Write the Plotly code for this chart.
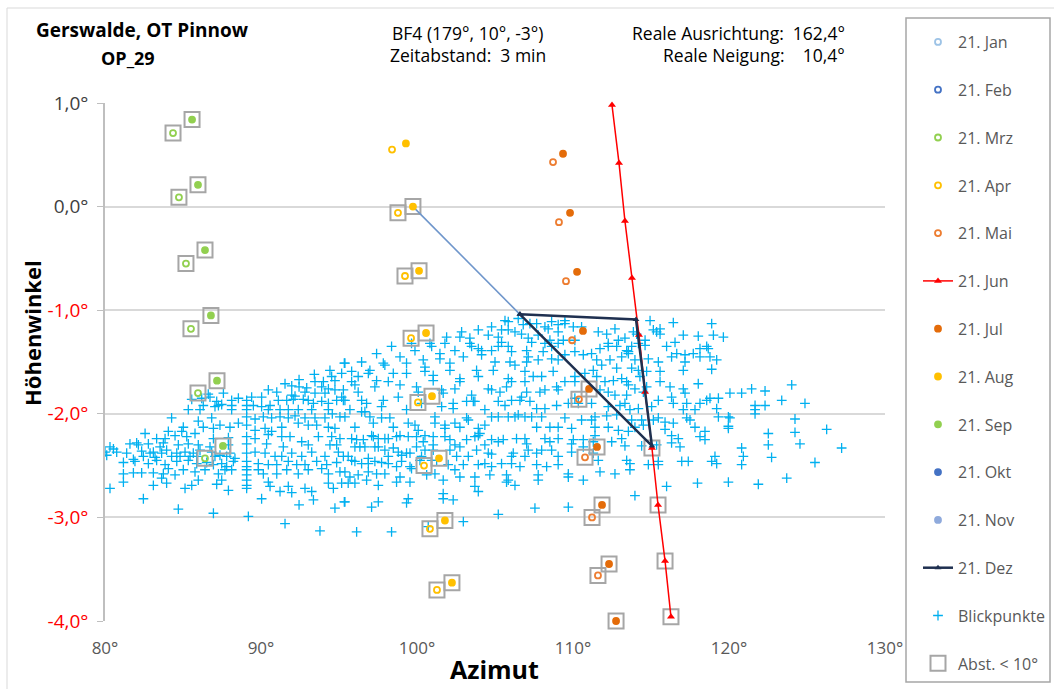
import plotly.graph_objects as go

# ---------------- Sonnenbahnen (Azimut in °, Höhenwinkel in °) ----------------
mrz_az = [84.36, 84.74, 85.19, 85.51, 85.96, 86.41]
mrz_alt = [0.71, 0.09, -0.55, -1.18, -1.80, -2.43]
sep_az = [85.58, 85.96, 86.41, 86.79, 87.18, 87.56]
sep_alt = [0.84, 0.21, -0.42, -1.05, -1.68, -2.31]
apr_az = [98.40, 98.78, 99.23, 99.62, 100.06, 100.45, 100.83, 101.28]
apr_alt = [0.55, -0.06, -0.67, -1.27, -1.89, -2.50, -3.11, -3.70]
aug_az = [99.29, 99.74, 100.13, 100.58, 100.96, 101.41, 101.79, 102.24]
aug_alt = [0.61, 0.00, -0.62, -1.22, -1.83, -2.43, -3.03, -3.63]
mai_az = [108.72, 109.10, 109.55, 109.94, 110.38, 110.77, 111.22, 111.60]
mai_alt = [0.43, -0.15, -0.72, -1.29, -1.86, -2.42, -3.00, -3.56]
jul_az = [109.36, 109.81, 110.26, 110.64, 111.03, 111.54, 111.86, 112.31, 112.76]
jul_alt = [0.51, -0.06, -0.63, -1.20, -1.76, -2.32, -2.88, -3.45, -4.00]
jun_az = [112.50, 112.95, 113.33, 113.78, 114.23, 114.62, 115.06, 115.45, 115.90, 116.28]
jun_alt = [0.98, 0.42, -0.14, -0.69, -1.24, -1.79, -2.33, -2.88, -3.42, -3.96]
dez_az = [106.60, 114.04, 115.06, 106.60]
dez_alt = [-1.04, -1.09, -2.31, -1.04]
verbindung_az = [99.74, 106.60]
verbindung_alt = [0.00, -1.04]

# Punkte mit Abstand < 10° (Indizes je Monatsreihe)
abst_idx = {
    "mrz": [0, 1, 2, 3, 4, 5],
    "sep": [0, 1, 2, 3, 4, 5],
    "apr": [1, 2, 3, 4, 5, 6, 7],
    "aug": [1, 2, 3, 4, 5, 6, 7],
    "mai": [4, 5, 6, 7],
    "jul": [4, 5, 6, 7, 8],
    "jun": [6, 7, 8, 9],
}

# ---------------- Blickpunkte (Azimut, Höhenwinkel) ----------------
blickpunkte = [
    (95.34, -1.51), (93.42, -1.62), (94.42, -1.58), (95.17, -1.61), (92.44, -1.67), (93.46, -1.69),
    (94.00, -1.69), (94.53, -1.64), (94.74, -1.68), (91.54, -1.71), (91.97, -1.73), (92.44, -1.74),
    (92.93, -1.75), (93.89, -1.74), (94.32, -1.76), (94.74, -1.77), (95.28, -1.77), (90.47, -1.77),
    (91.01, -1.79), (91.97, -1.82), (92.82, -1.79), (93.46, -1.80), (94.10, -1.80), (95.17, -1.84),
    (86.62, -1.81), (87.59, -1.80), (85.56, -1.86), (86.20, -1.85), (86.73, -1.84), (87.16, -1.88),
    (87.27, -1.92), (87.48, -1.91), (88.12, -1.87), (88.55, -1.85), (89.08, -1.87), (89.40, -1.84),
    (90.04, -1.84), (85.34, -1.96), (86.09, -1.96), (86.30, -1.92), (87.05, -1.93), (88.12, -1.92),
    (88.12, -1.96), (89.08, -1.92), (89.08, -1.96), (89.51, -1.92), (90.04, -1.93), (90.58, -1.92),
    (91.11, -1.87), (91.65, -1.87), (92.07, -1.86), (92.18, -1.83), (92.71, -1.86), (93.03, -1.87),
    (93.36, -1.90), (93.89, -1.88), (94.32, -1.90), (94.85, -1.87), (95.28, -1.87), (90.47, -1.96),
    (91.22, -1.96), (91.75, -1.96), (92.39, -1.96), (93.25, -1.96), (94.32, -1.96),
    (84.27, -2.04), (85.98, -2.07), (86.84, -2.04), (87.37, -2.11), (88.01, -2.13), (88.55, -2.09),
    (89.08, -2.03), (89.62, -2.05), (90.15, -2.03), (90.68, -2.04), (91.22, -2.03), (91.75, -2.04),
    (92.18, -2.02), (92.82, -2.04), (93.46, -2.04), (94.10, -2.04), (94.57, -2.00), (95.06, -2.03),
    (84.06, -2.17), (85.02, -2.13), (84.92, -2.17), (86.30, -2.13), (86.95, -2.14), (89.08, -2.11),
    (89.62, -2.16), (90.26, -2.14), (90.68, -2.17), (91.33, -2.13), (92.39, -2.09), (93.03, -2.11),
    (93.57, -2.11), (94.32, -2.13), (94.74, -2.14), (82.57, -2.19), (83.31, -2.24), (83.85, -2.24),
    (84.49, -2.21), (85.24, -2.22), (85.77, -2.19), (86.95, -2.24), (87.91, -2.23), (89.08, -2.22),
    (89.62, -2.24), (90.47, -2.20), (91.33, -2.22), (91.86, -2.22), (92.61, -2.27), (93.68, -2.22),
    (94.53, -2.22), (95.06, -2.24), (81.60, -2.29), (82.03, -2.28), (82.14, -2.30), (82.78, -2.29),
    (83.53, -2.32), (83.74, -2.28), (84.70, -2.30), (85.34, -2.29), (85.98, -2.30), (86.73, -2.32),
    (87.91, -2.30), (89.08, -2.29), (90.36, -2.29), (91.43, -2.32), (93.03, -2.30), (94.42, -2.30),
    (94.85, -2.30),
    (80.00, -2.37), (80.32, -2.32), (80.54, -2.34), (80.75, -2.37), (80.11, -2.40), (81.39, -2.38),
    (81.82, -2.44), (82.35, -2.36), (82.46, -2.41), (82.89, -2.38), (83.10, -2.37), (83.21, -2.42),
    (83.63, -2.38), (83.95, -2.35), (84.27, -2.41), (84.60, -2.38), (84.81, -2.41), (85.13, -2.37),
    (85.45, -2.41), (85.66, -2.38), (85.88, -2.41), (86.09, -2.35), (86.84, -2.37), (87.05, -2.41),
    (87.37, -2.40), (87.80, -2.41), (88.01, -2.38), (88.33, -2.43), (89.08, -2.38), (89.62, -2.37),
    (90.26, -2.38), (90.90, -2.41), (91.33, -2.41), (91.97, -2.38), (92.61, -2.41), (93.25, -2.37),
    (94.10, -2.41), (94.96, -2.37), (95.28, -2.41), (81.18, -2.47), (81.92, -2.46), (82.78, -2.48),
    (83.31, -2.45), (83.85, -2.49), (84.60, -2.46), (85.34, -2.45), (85.88, -2.48), (86.52, -2.47),
    (86.95, -2.49), (87.48, -2.48), (87.80, -2.51), (88.23, -2.46), (89.08, -2.46), (89.08, -2.51),
    (89.83, -2.48), (90.47, -2.49), (91.01, -2.49), (91.75, -2.46), (92.29, -2.49), (92.82, -2.49),
    (93.57, -2.46), (94.21, -2.49), (94.85, -2.47),
    (81.18, -2.58), (81.82, -2.57), (82.35, -2.57), (83.10, -2.57), (83.74, -2.58), (84.06, -2.53),
    (84.49, -2.59), (85.02, -2.54), (85.77, -2.56), (86.41, -2.54), (87.27, -2.58), (87.69, -2.54),
    (88.12, -2.54), (89.08, -2.54), (89.08, -2.59), (89.83, -2.54), (90.15, -2.58), (91.01, -2.58),
    (91.65, -2.54), (92.39, -2.58), (93.03, -2.54), (93.89, -2.53), (94.32, -2.58), (95.06, -2.56),
    (81.18, -2.66), (83.10, -2.69), (83.63, -2.62), (83.95, -2.67), (85.13, -2.72), (85.56, -2.69),
    (85.98, -2.64), (87.16, -2.68), (87.48, -2.64), (87.91, -2.74), (89.08, -2.64), (89.08, -2.69),
    (89.08, -2.72), (90.47, -2.66), (90.58, -2.70), (91.22, -2.75), (91.75, -2.70), (91.97, -2.76),
    (92.82, -2.72), (93.25, -2.75), (94.32, -2.67), (94.64, -2.72), (95.17, -2.67), (80.32, -2.72),
    (82.46, -2.82), (90.04, -2.82), (93.36, -2.83), (84.70, -2.92), (86.95, -2.96), (89.19, -2.99),
    (91.54, -3.06), (92.44, -2.88), (93.78, -3.13), (94.74, -2.91), (95.34, -2.85),
    (105.64, -1.10), (105.85, -1.11), (106.49, -1.08), (106.81, -1.14), (107.24, -1.13), (107.67, -1.13),
    (108.20, -1.16), (108.41, -1.18), (108.63, -1.11), (109.05, -1.14), (109.48, -1.10), (109.48, -1.13),
    (110.02, -1.16), (109.05, -1.21), (109.38, -1.29), (110.12, -1.29), (110.55, -1.16), (104.78, -1.16),
    (105.42, -1.19), (105.85, -1.19), (106.28, -1.21), (106.70, -1.23), (107.13, -1.27), (107.77, -1.24),
    (107.35, -1.31), (108.20, -1.32), (108.52, -1.29), (108.63, -1.35), (109.05, -1.32), (103.93, -1.19),
    (104.57, -1.24), (105.21, -1.26), (105.42, -1.31), (103.39, -1.27), (103.39, -1.32), (102.86, -1.21),
    (102.75, -1.26), (101.90, -1.26), (101.79, -1.32), (100.83, -1.32), (100.94, -1.35), (99.65, -1.32),
    (98.37, -1.35), (97.41, -1.42),
    (99.87, -1.39), (98.91, -1.45), (96.45, -1.50), (95.38, -1.51), (97.84, -1.51), (97.94, -1.53),
    (99.33, -1.51), (100.40, -1.48), (100.51, -1.55), (101.47, -1.42), (101.47, -1.47), (102.11, -1.51),
    (102.11, -1.58), (102.43, -1.39), (102.97, -1.45), (103.50, -1.35), (103.93, -1.37), (104.14, -1.39),
    (104.14, -1.43), (104.78, -1.39), (105.00, -1.50), (105.21, -1.35), (105.85, -1.35), (106.06, -1.40),
    (105.96, -1.50), (106.28, -1.53), (107.03, -1.39), (107.13, -1.45), (107.03, -1.50), (107.77, -1.48),
    (108.09, -1.40), (108.63, -1.47), (109.05, -1.48), (109.48, -1.43), (110.12, -1.40), (110.66, -1.43),
    (111.19, -1.42), (95.81, -1.59), (96.23, -1.64), (96.98, -1.58), (96.88, -1.61), (98.48, -1.61),
    (99.33, -1.61), (100.51, -1.59), (101.04, -1.63), (101.04, -1.68), (102.75, -1.66), (102.75, -1.69),
    (103.82, -1.58), (103.93, -1.64), (104.89, -1.58), (105.85, -1.66), (106.92, -1.59), (106.92, -1.69),
    (107.45, -1.64), (107.99, -1.64), (108.73, -1.59), (109.48, -1.69), (110.12, -1.64), (110.12, -1.69),
    (110.76, -1.61), (111.30, -1.58),
    (95.81, -1.69), (96.02, -1.72), (96.23, -1.79), (97.30, -1.74), (97.41, -1.68), (98.16, -1.69),
    (98.91, -1.72), (99.97, -1.74), (100.08, -1.79), (101.58, -1.77), (101.68, -1.80), (102.43, -1.76),
    (103.50, -1.82), (103.61, -1.88), (104.57, -1.76), (104.78, -1.77), (105.32, -1.79), (105.74, -1.74),
    (106.06, -1.69), (106.60, -1.87), (106.70, -1.84), (107.03, -1.79), (107.88, -1.79), (108.20, -1.77),
    (108.95, -1.74), (109.05, -1.77), (95.38, -1.87), (96.45, -1.87), (96.77, -1.90), (97.84, -1.87),
    (98.80, -1.84), (99.33, -1.96), (100.29, -1.90), (101.58, -1.93), (102.32, -1.90), (102.32, -1.95),
    (103.18, -1.88), (103.71, -1.88), (104.35, -1.96), (105.21, -1.88), (105.64, -1.92), (106.06, -1.87),
    (107.24, -1.88), (107.67, -1.95), (108.20, -1.95), (108.95, -1.92), (109.70, -1.90), (110.12, -1.85),
    (110.34, -1.90), (111.19, -1.90), (95.70, -1.96), (96.45, -1.98), (97.73, -1.93),
    (95.38, -2.03), (96.02, -2.13), (96.66, -1.98), (96.98, -2.03), (97.20, -2.09), (97.73, -2.04),
    (98.26, -2.04), (98.48, -2.13), (99.44, -2.09), (99.87, -2.11), (100.08, -2.16), (100.51, -2.21),
    (101.15, -2.03), (101.15, -2.09), (101.79, -2.11), (101.79, -2.14), (102.43, -2.09), (103.18, -2.04),
    (103.29, -2.06), (103.93, -2.14), (104.03, -2.19), (104.35, -2.11), (104.78, -2.03), (105.21, -2.03),
    (105.85, -2.03), (106.28, -2.03), (106.49, -2.01), (106.92, -2.03), (107.35, -2.03), (107.67, -2.13),
    (107.99, -2.03), (108.52, -2.13), (109.05, -2.13), (109.48, -2.04), (109.91, -2.14), (110.55, -2.06),
    (111.19, -2.06), (95.81, -2.24), (96.13, -2.25), (96.56, -2.25), (97.09, -2.21), (97.20, -2.22),
    (97.52, -2.24), (97.94, -2.24), (98.16, -2.24), (98.69, -2.22), (98.91, -2.21), (99.44, -2.22),
    (99.97, -2.22), (100.40, -2.27), (101.04, -2.22), (101.79, -2.22), (102.11, -2.25), (102.75, -2.13),
    (103.18, -2.25), (103.71, -2.22), (103.93, -2.21), (104.78, -2.25), (105.21, -2.27), (105.53, -2.25),
    (106.38, -2.24), (106.92, -2.24), (107.03, -2.29), (108.20, -2.24), (108.52, -2.27), (109.05, -2.24),
    (110.02, -2.25), (110.66, -2.25), (111.30, -2.27),
    (95.59, -2.41), (96.02, -2.32), (96.34, -2.32), (96.66, -2.32), (96.88, -2.43), (97.30, -2.32),
    (97.52, -2.32), (97.94, -2.35), (98.16, -2.41), (98.48, -2.33), (98.80, -2.37), (99.01, -2.40),
    (99.33, -2.38), (99.55, -2.38), (99.97, -2.32), (100.29, -2.41), (100.51, -2.35), (101.04, -2.30),
    (101.04, -2.35), (101.26, -2.45), (102.11, -2.35), (102.43, -2.30), (102.54, -2.41), (102.75, -2.32),
    (103.29, -2.41), (103.82, -2.35), (104.35, -2.30), (104.57, -2.38), (104.78, -2.39), (106.06, -2.41),
    (106.17, -2.38), (106.92, -2.41), (107.13, -2.35), (107.67, -2.38), (107.99, -2.35), (108.63, -2.35),
    (109.05, -2.41), (109.91, -2.29), (109.91, -2.37), (110.66, -2.32), (111.30, -2.38), (95.81, -2.45),
    (96.02, -2.46), (96.45, -2.48), (96.88, -2.48), (97.30, -2.46), (97.73, -2.47), (98.16, -2.48),
    (98.69, -2.51), (99.01, -2.46), (99.55, -2.51), (100.19, -2.45), (100.94, -2.45), (102.00, -2.49),
    (102.43, -2.54), (102.97, -2.49), (103.93, -2.49), (104.35, -2.48), (104.78, -2.51), (105.42, -2.48),
    (106.06, -2.48), (106.60, -2.51), (107.67, -2.49), (108.31, -2.51), (109.05, -2.49), (95.38, -2.56),
    (95.70, -2.61), (96.23, -2.59), (96.88, -2.56), (97.41, -2.58), (97.94, -2.58), (98.91, -2.61),
    (99.65, -2.53), (100.62, -2.59), (101.15, -2.58), (102.75, -2.61), (103.71, -2.61), (104.67, -2.59),
    (105.74, -2.59), (105.74, -2.66), (107.77, -2.59), (107.77, -2.64), (109.70, -2.58), (109.70, -2.61),
    (110.66, -2.64),
    (95.59, -2.67), (96.02, -2.67), (96.77, -2.64), (97.52, -2.69), (98.69, -2.66), (99.55, -2.66),
    (101.68, -2.64), (103.71, -2.70), (103.93, -2.75), (105.85, -2.64), (106.28, -2.69), (95.38, -2.85),
    (97.09, -2.90), (97.52, -2.85), (99.33, -2.86), (99.44, -2.82), (101.68, -2.77), (101.68, -2.82),
    (102.32, -2.83), (105.21, -2.97), (107.56, -2.91), (109.70, -2.90), (96.13, -3.14), (98.37, -3.14),
    (100.72, -3.09), (102.97, -3.04),
    (114.94, -1.10), (116.43, -1.12), (118.89, -1.13), (111.62, -1.21), (112.16, -1.23), (112.69, -1.18),
    (113.33, -1.27), (113.87, -1.21), (114.08, -1.23), (114.62, -1.29), (115.15, -1.19), (115.36, -1.21),
    (115.58, -1.18), (115.58, -1.23), (117.07, -1.24), (118.03, -1.25), (119.00, -1.24), (119.64, -1.26),
    (118.57, -1.35), (118.67, -1.37), (118.14, -1.37), (112.91, -1.29), (112.26, -1.32), (112.26, -1.35),
    (111.73, -1.37), (112.80, -1.35), (113.44, -1.39), (113.55, -1.40), (113.76, -1.35), (114.19, -1.32),
    (114.62, -1.34), (114.83, -1.47), (116.00, -1.35), (116.54, -1.31), (116.65, -1.42), (117.18, -1.43),
    (117.71, -1.42),
    (111.52, -1.48), (112.37, -1.48), (113.12, -1.45), (113.55, -1.42), (113.97, -1.48), (115.47, -1.50),
    (116.32, -1.45), (117.18, -1.50), (118.14, -1.45), (118.78, -1.45), (119.21, -1.48), (111.84, -1.53),
    (112.80, -1.56), (113.76, -1.56), (114.19, -1.58), (114.72, -1.59), (115.58, -1.59), (117.07, -1.58),
    (118.89, -1.57), (111.52, -1.64), (112.05, -1.69), (112.59, -1.68), (113.12, -1.66), (113.44, -1.69),
    (113.55, -1.72), (113.97, -1.76), (114.29, -1.64), (114.72, -1.74), (115.58, -1.69), (116.22, -1.74),
    (117.07, -1.76), (118.03, -1.71), (111.73, -1.77), (112.26, -1.79), (112.69, -1.82), (113.44, -1.82),
    (114.51, -1.79), (116.32, -1.84), (117.18, -1.80), (124.02, -1.72), (121.45, -1.76), (122.31, -1.78),
    (120.81, -1.80), (120.06, -1.80),
    (115.47, -1.87), (116.43, -1.90), (117.29, -1.90), (118.14, -1.90), (118.57, -1.87), (118.78, -1.85),
    (119.32, -1.85), (123.38, -1.87), (124.87, -1.90), (121.67, -1.92), (122.31, -1.92), (121.67, -1.96),
    (121.67, -2.00), (119.21, -1.95), (117.82, -1.96), (117.07, -1.96), (115.04, -1.93), (114.19, -1.95),
    (113.65, -1.96), (113.33, -1.90), (112.26, -1.93), (113.01, -1.92),
    (111.41, -2.03), (112.16, -2.02), (112.80, -2.01), (113.76, -2.06), (114.40, -2.06), (115.47, -2.04),
    (115.90, -2.08), (116.43, -2.09), (117.29, -2.04), (117.50, -2.06), (117.82, -2.13), (118.46, -2.17),
    (119.32, -2.03), (119.96, -2.03), (120.06, -2.04), (119.96, -2.12), (119.96, -2.14), (124.23, -2.05),
    (111.41, -2.13), (112.26, -2.13), (112.91, -2.16), (113.55, -2.17), (113.97, -2.13), (114.51, -2.11),
    (115.15, -2.06), (115.90, -2.15), (116.32, -2.21), (116.75, -2.24), (118.14, -2.22), (118.46, -2.25),
    (122.52, -2.19), (124.23, -2.18), (126.26, -2.15), (111.41, -2.21), (112.48, -2.27), (113.12, -2.24),
    (113.33, -2.31), (114.40, -2.31), (115.36, -2.30), (116.32, -2.28), (116.86, -2.32), (120.81, -2.33),
    (122.52, -2.30), (124.55, -2.29), (127.22, -2.33), (111.62, -2.45), (113.44, -2.45), (113.65, -2.48),
    (113.65, -2.54), (114.83, -2.49), (115.47, -2.46), (115.47, -2.49), (116.97, -2.46), (117.39, -2.46),
    (118.89, -2.46), (119.10, -2.41), (119.21, -2.48), (120.92, -2.41), (120.81, -2.49), (122.73, -2.42),
    (125.51, -2.47),
    (111.73, -2.56), (112.69, -2.58), (116.00, -2.70), (117.98, -2.67), (119.96, -2.66), (121.88, -2.68),
    (123.70, -2.62), (113.97, -2.79),
]

x_ticks = [80, 90, 100, 110, 120, 130]
x_labels = ["80°", "90°", "100°", "110°", "120°", "130°"]
y_ticks = [1, 0, -1, -2, -3, -4]
y_labels = ["1,0°", "0,0°", "-1,0°", "-2,0°", "-3,0°", "-4,0°"]

FONT = "Open Sans"
fig = go.Figure()

# Blickpunkte
fig.add_trace(go.Scatter(
    x=[p[0] for p in blickpunkte], y=[p[1] for p in blickpunkte],
    mode="markers", name="Blickpunkte", legendrank=13, legendgroup="blick",
    marker=dict(symbol="cross-thin", size=7, color="#00b0f0",
                line=dict(color="#00b0f0", width=1.3)),
))

# Abstand < 10°
series = {
    "mrz": (mrz_az, mrz_alt), "sep": (sep_az, sep_alt), "apr": (apr_az, apr_alt),
    "aug": (aug_az, aug_alt), "mai": (mai_az, mai_alt), "jul": (jul_az, jul_alt),
    "jun": (jun_az, jun_alt),
}
abst_x, abst_y = [], []
for key, idx in abst_idx.items():
    xs, ys = series[key]
    abst_x += [xs[i] for i in idx]
    abst_y += [ys[i] for i in idx]
fig.add_trace(go.Scatter(
    x=abst_x, y=abst_y, mode="markers", name="Abst. < 10°", legendrank=14,
    legendgroup="abst", cliponaxis=False,
    marker=dict(symbol="square-open", size=15, color="#a6a6a6", line=dict(width=2)),
))

# Verbindungslinie
fig.add_trace(go.Scatter(
    x=verbindung_az, y=verbindung_alt, mode="lines", showlegend=False,
    line=dict(color="#6f96cb", width=1.6), hoverinfo="skip",
))


def punkte(name, xs, ys, color, filled, rank):
    fig.add_trace(go.Scatter(
        x=xs if xs else [None], y=ys if ys else [None], mode="markers", name=name,
        legendrank=rank, legendgroup=name, cliponaxis=False,
        marker=dict(symbol="circle" if filled else "circle-open", size=6,
                    color=color, line=dict(color=color, width=1.8)),
    ))


punkte("21. Jan", [], [], "#9dc3e6", False, 1)
punkte("21. Feb", [], [], "#4472c4", False, 2)
punkte("21. Mrz", mrz_az, mrz_alt, "#92d050", False, 3)
punkte("21. Apr", apr_az, apr_alt, "#ffc000", False, 4)
punkte("21. Mai", mai_az, mai_alt, "#ed7d31", False, 5)
fig.add_trace(go.Scatter(
    x=jun_az, y=jun_alt, mode="lines+markers", name="21. Jun", legendrank=6,
    legendgroup="jun", cliponaxis=False,
    line=dict(color="#ff0000", width=1.5),
    marker=dict(symbol="triangle-up", size=7, color="#ff0000"),
))
punkte("21. Jul", jul_az, jul_alt, "#e46c0a", True, 7)
punkte("21. Aug", aug_az, aug_alt, "#ffc000", True, 8)
punkte("21. Sep", sep_az, sep_alt, "#92d050", True, 9)
punkte("21. Okt", [], [], "#4472c4", True, 10)
punkte("21. Nov", [], [], "#8faadc", True, 11)
fig.add_trace(go.Scatter(
    x=dez_az, y=dez_alt, mode="lines+markers", name="21. Dez", legendrank=12,
    legendgroup="dez",
    line=dict(color="#1f3050", width=2.5),
    marker=dict(symbol="triangle-up", size=6, color="#1f3050"),
))

neg = "#ff0000"
ytext = [f'<span style="color:{neg}">{t}</span>' if v < 0 else t for v, t in zip(y_ticks, y_labels)]


def px_x(px):
    return (px - 105) / 780


def px_y(py):
    return (621 - py) / 518


texts = [
    dict(text="<b>Gerswalde, OT Pinnow</b>", x=px_x(34), y=px_y(30), xanchor="left", size=19),
    dict(text="<b>OP_29</b>", x=px_x(128), y=px_y(58), xanchor="center", size=18),
    dict(text="BF4 (179°, 10°, -3°)", x=px_x(468), y=px_y(33), xanchor="center", size=17.5),
    dict(text="Zeitabstand:\u00a0\u00a03 min", x=px_x(468), y=px_y(55), xanchor="center", size=17.5),
    dict(text="Reale Ausrichtung:\u00a0\u00a0162,4°", x=px_x(847), y=px_y(33), xanchor="right", size=17.5),
    dict(text="Reale Neigung:\u00a0\u00a0\u00a0\u00a010,4°", x=px_x(847), y=px_y(55), xanchor="right", size=17.5),
]
annotations = [
    dict(text=t["text"], x=t["x"], y=t["y"], xref="paper", yref="paper", xanchor=t["xanchor"],
         yanchor="middle", showarrow=False, font=dict(family=FONT, size=t["size"], color="#000000"))
    for t in texts
]
annotations.append(dict(text="<b>Höhenwinkel</b>", x=px_x(32), y=px_y(333), xref="paper", yref="paper",
                        textangle=-90, showarrow=False, xanchor="center", yanchor="middle",
                        font=dict(family=FONT, size=22, color="#000000")))
annotations.append(dict(text="<b>Azimut</b>", x=px_x(494), y=px_y(669), xref="paper", yref="paper",
                        showarrow=False, xanchor="center", yanchor="middle",
                        font=dict(family=FONT, size=25, color="#000000")))

fig.update_layout(
    width=1054, height=689, autosize=False,
    margin=dict(l=105, r=169, t=103, b=68, autoexpand=False),
    paper_bgcolor="white", plot_bgcolor="white",
    font=dict(family=FONT, size=16, color="#595959"),
    showlegend=True,
    legend=dict(x=px_x(918), y=px_y(25), xanchor="left", yanchor="top", maxheight=700,
                bgcolor="rgba(0,0,0,0)", borderwidth=0, tracegroupgap=24,
                font=dict(family=FONT, size=16, color="#595959"), itemsizing="trace"),
    xaxis=dict(range=[80, 130], tickvals=x_ticks, ticktext=x_labels, showgrid=False,
               zeroline=False, showline=False, ticks="", ticklabelstandoff=15,
               tickfont=dict(family=FONT, size=17, color="#595959")),
    yaxis=dict(range=[-4, 1], tickvals=y_ticks, ticktext=ytext, showgrid=True,
               gridcolor="#d9d9d9", gridwidth=1.5, zeroline=False, showline=True,
               linecolor="#bfbfbf", linewidth=1.5, ticks="outside", ticklen=6,
               ticklabelstandoff=5,
               tickcolor="#bfbfbf", tickfont=dict(family=FONT, size=19, color="#404040")),
    annotations=annotations,
    shapes=[
        dict(type="rect", xref="paper", yref="paper", x0=px_x(906), x1=px_x(1050),
             y0=px_y(682), y1=px_y(18), line=dict(color="#a6a6a6", width=1.5)),
        dict(type="rect", xref="paper", yref="paper", x0=px_x(7), x1=px_x(1070),
             y0=px_y(700), y1=px_y(8), line=dict(color="#d9d9d9", width=1)),
    ],
)

fig.write_html("out.html")
